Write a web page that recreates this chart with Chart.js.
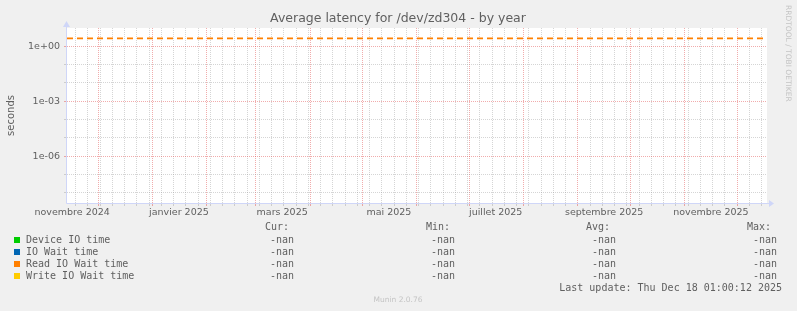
<!DOCTYPE html>
<html>
<head>
<meta charset="utf-8">
<script src="https://cdn.jsdelivr.net/npm/chart.js@4/dist/chart.umd.min.js"></script>
<style>
  html, body { margin: 0; padding: 0; background: #f0f0f0; }
  canvas { display: block; }
</style>
</head>
<body>
<canvas id="chart" width="797" height="311"></canvas>
<script>
// graph window: munin "by year" = 400 days ending at last update
const lastUpdate = '2025-12-18T01:00:12Z';
const windowDays = 400;

const monthStarts = ['2024-12-01', '2025-01-01', '2025-02-01', '2025-03-01', '2025-04-01', '2025-05-01',
    '2025-06-01', '2025-07-01', '2025-08-01', '2025-09-01', '2025-10-01', '2025-11-01', '2025-12-01'];
const monthLabelDates = ['2024-11-16', '2025-01-16', '2025-03-16', '2025-05-16', '2025-07-16', '2025-09-16', '2025-11-16'];
const monthLabels = ['novembre 2024', 'janvier 2025', 'mars 2025', 'mai 2025', 'juillet 2025', 'septembre 2025', 'novembre 2025'];
const firstMonday = '2024-11-18';

const yGridValues = [1, 1e-1, 1e-2, 1e-3, 1e-4, 1e-5, 1e-6, 1e-7, 1e-8];
const yLabelValues = [1, 1e-3, 1e-6];
const yTickLabels = ['1e+00', '1e-03', '1e-06'];

// every field reads -nan, so nothing to plot for them
const seriesNames = ['Device IO time', 'IO Wait time', 'Read IO Wait time', 'Write IO Wait time'];
const curValues = ['-nan', '-nan', '-nan', '-nan'];
const minValues = ['-nan', '-nan', '-nan', '-nan'];
const avgValues = ['-nan', '-nan', '-nan', '-nan'];
const maxValues = ['-nan', '-nan', '-nan', '-nan'];
const deviceIoTime = [];
const ioWaitTime = [];
const readIoWaitTime = [];
const writeIoWaitTime = [];
const dashedLineValue = 2.7;

const seriesColors = ['#00cc00', '#0066b3', '#ff8000', '#ffcc00'];

const DAY = 86400000;
const endMs = Date.parse(lastUpdate);
const startMs = endMs - windowDays * DAY;
const toDay = d => (Date.parse(d + 'T00:00:00Z') - startMs) / DAY;

function buildXTicks() {
    const ticks = [];
    const majors = monthStarts.map(toDay);
    for (let d = toDay(firstMonday); d <= windowDays; d += 7) {
        if (!majors.some(m => Math.abs(m - d) < 0.01)) ticks.push({ value: d, kind: 'minor', text: '' });
    }
    majors.forEach(m => ticks.push({ value: m, kind: 'major', text: '' }));
    monthLabelDates.forEach((d, i) => ticks.push({ value: toDay(d), kind: 'label', text: monthLabels[i] }));
    return ticks.sort((a, b) => a.value - b.value);
}

const GRID = 'rgba(150,150,150,0.4)';
const MGRID = 'rgba(225,70,70,0.45)';
const NONE = 'rgba(0,0,0,0)';
const FONT = '#606060';
const AXIS = '#cfd6f8';

const isMajorY = v => yLabelValues.some(l => Math.abs(Math.log10(v) - Math.log10(l)) < 0.01);
const xGridColor = c => c.tick.kind === 'major' ? MGRID : (c.tick.kind === 'minor' ? GRID : NONE);

const munin = {
    id: 'munin',
    beforeDraw(chart) {
        const { ctx, chartArea: a } = chart;
        ctx.save();
        ctx.fillStyle = '#ffffff';
        ctx.fillRect(a.left, a.top, a.right - a.left, a.bottom - a.top);
        ctx.restore();
    },
    afterDraw(chart) {
        const { ctx, chartArea: a } = chart;
        ctx.save();
        // axes and arrows
        ctx.strokeStyle = AXIS;
        ctx.fillStyle = AXIS;
        ctx.lineWidth = 1;
        ctx.beginPath();
        ctx.moveTo(a.left - 0.5, a.bottom + 0.5);
        ctx.lineTo(a.right + 3, a.bottom + 0.5);
        ctx.moveTo(a.left - 0.5, a.bottom + 0.5);
        ctx.lineTo(a.left - 0.5, a.top - 2);
        ctx.stroke();
        ctx.beginPath();
        ctx.moveTo(a.right + 2, a.bottom - 3);
        ctx.lineTo(a.right + 7, a.bottom + 0.5);
        ctx.lineTo(a.right + 2, a.bottom + 4);
        ctx.fill();
        ctx.beginPath();
        ctx.moveTo(a.left - 4, a.top - 1);
        ctx.lineTo(a.left - 0.5, a.top - 7);
        ctx.lineTo(a.left + 3, a.top - 1);
        ctx.fill();

        // title
        ctx.fillStyle = FONT;
        ctx.font = '12.5px "DejaVu Sans"';
        ctx.textAlign = 'center';
        ctx.textBaseline = 'middle';
        ctx.fillText('Average latency for /dev/zd304 - by year', 398, 19);

        // watermark
        ctx.save();
        ctx.fillStyle = '#c4c4c4';
        ctx.font = '7.5px "DejaVu Sans"';
        ctx.translate(788, 5);
        ctx.rotate(Math.PI / 2);
        ctx.textAlign = 'left';
        ctx.fillText('RRDTOOL / TOBI OETIKER', 0, 0);
        ctx.restore();

        // legend
        ctx.font = '10px "DejaVu Sans Mono"';
        ctx.fillStyle = FONT;
        ctx.textAlign = 'left';
        const headerY = 227;
        const colHead = [265, 426, 586, 747];
        const colEnd = [294, 455, 616, 777];
        ['Cur:', 'Min:', 'Avg:', 'Max:'].forEach((h, i) => ctx.fillText(h, colHead[i], headerY));
        const cols = [curValues, minValues, avgValues, maxValues];
        seriesNames.forEach((name, r) => {
            const y = 240 + r * 12;
            ctx.fillStyle = seriesColors[r];
            ctx.fillRect(14, y - 3, 6, 6);
            ctx.fillStyle = FONT;
            ctx.textAlign = 'left';
            ctx.fillText(name, 26, y);
            ctx.textAlign = 'right';
            cols.forEach((c, i) => ctx.fillText(c[r], colEnd[i], y));
        });
        ctx.textAlign = 'right';
        ctx.fillText('Last update: Thu Dec 18 01:00:12 2025', 782, 288);

        ctx.fillStyle = '#c4c4c4';
        ctx.font = '7.5px "DejaVu Sans"';
        ctx.textAlign = 'center';
        ctx.fillText('Munin 2.0.76', 398, 300);
        ctx.restore();
    }
};

const xy = vals => vals.map((v, i) => ({ x: i, y: v }));

new Chart(document.getElementById('chart'), {
    type: 'line',
    data: {
        datasets: [
            { label: seriesNames[0], data: xy(deviceIoTime), borderColor: seriesColors[0], pointRadius: 0 },
            { label: seriesNames[1], data: xy(ioWaitTime), borderColor: seriesColors[1], pointRadius: 0 },
            { label: seriesNames[2], data: xy(readIoWaitTime), borderColor: seriesColors[2], pointRadius: 0 },
            { label: seriesNames[3], data: xy(writeIoWaitTime), borderColor: seriesColors[3], pointRadius: 0 },
            {
                label: 'threshold',
                data: [{ x: 0, y: dashedLineValue }, { x: windowDays, y: dashedLineValue }],
                borderColor: '#ff8000', borderWidth: 1.6, borderDash: [6, 4], pointRadius: 0
            }
        ]
    },
    options: {
        responsive: false,
        animation: false,
        devicePixelRatio: 1,
        layout: { padding: { top: 28, right: 30, left: 0, bottom: 0 } },
        plugins: { legend: { display: false }, title: { display: false }, tooltip: { enabled: false } },
        scales: {
            x: {
                type: 'linear', min: 0, max: windowDays,
                afterFit: s => { s.height = 108; },
                afterBuildTicks: s => { s.ticks = buildXTicks(); },
                border: { display: false, dash: [1, 1] },
                grid: { color: xGridColor, tickColor: xGridColor, tickLength: 3, drawTicks: true },
                ticks: {
                    autoSkip: false, maxRotation: 0, padding: 1,
                    color: FONT, font: { family: 'DejaVu Sans', size: 9.5 },
                    callback: (v, i, ticks) => ticks[i].text || ''
                }
            },
            y: {
                type: 'logarithmic', min: 2.8e-9, max: 10,
                afterFit: s => { s.width = 67; },
                afterBuildTicks: s => { s.ticks = yGridValues.map(v => ({ value: v })); },
                border: { display: false, dash: [1, 1] },
                grid: {
                    color: c => isMajorY(c.tick.value) ? MGRID : GRID,
                    tickColor: c => isMajorY(c.tick.value) ? MGRID : GRID,
                    tickLength: 3, drawTicks: true
                },
                ticks: {
                    autoSkip: false, padding: 4,
                    color: FONT, font: { family: 'DejaVu Sans', size: 9.5 },
                    callback: v => {
                        const i = yLabelValues.findIndex(l => Math.abs(Math.log10(v) - Math.log10(l)) < 0.01);
                        return i >= 0 ? yTickLabels[i] : '';
                    }
                },
                title: {
                    display: true, text: 'seconds', color: FONT,
                    font: { family: 'DejaVu Sans', size: 10 }, padding: { top: 5, bottom: 0 }
                }
            }
        }
    },
    plugins: [munin]
});
</script>
</body>
</html>
